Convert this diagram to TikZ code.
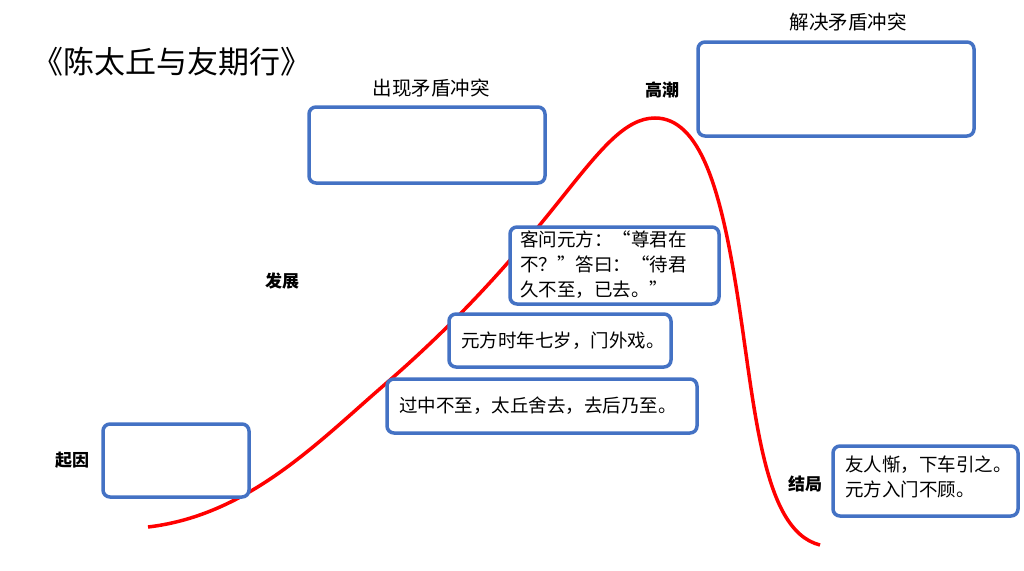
\documentclass[tikz,border=0pt]{standalone}
\usepackage{fontspec}
\setmainfont{Noto Sans CJK SC}
\definecolor{bluebox}{HTML}{4472C4}
\begin{document}
\begin{tikzpicture}[x=1pt,y=-1pt,
  bx/.style={draw=bluebox,line width=3.5pt,rounded corners=7pt,fill=white},
  tx/.style={font=\fontsize{18.5}{25}\selectfont,align=left,anchor=north west,inner sep=0pt},
  lb/.style={font=\fontsize{17}{20}\selectfont\bfseries},
  captext/.style={font=\fontsize{19.5}{22}\selectfont}]
\useasboundingbox (0,0) rectangle (1024,570);
\node[font=\fontsize{31}{34}\selectfont] (title) at (172,62) {《陈太丘与友期行》};
\draw[red,line width=3.5pt] (148,527) .. controls (250,515) and (320,440) .. (390,380)
  .. controls (470,310) and (520,250) .. (560,200)
  .. controls (600,150) and (625,118) .. (655,118)
  .. controls (700,118) and (720,190) .. (735,280)
  .. controls (755,400) and (760,530) .. (820,545);
\draw[bx] (103,424) rectangle (249,497);
\draw[bx] (309,107) rectangle (545,183);
\draw[bx] (698,42) rectangle (974,136);
\draw[bx] (510,227) rectangle (719,304);
\draw[bx] (449,314) rectangle (671,367);
\draw[bx] (387,379) rectangle (697,433);
\draw[bx] (833,446) rectangle (1018,516);
\node[tx] (t1) at (520,231) {客问元方：“尊君在\\不？”答曰：“待君\\久不至，已去。”};
\node[tx,anchor=west] (t2) at (461,341) {元方时年七岁，门外戏。};
\node[tx,anchor=west] (t3) at (399,406) {过中不至，太丘舍去，去后乃至。};
\node[tx] (t4) at (845,456) {友人惭，下车引之。\\元方入门不顾。};
\node[captext] (c1) at (431,88) {出现矛盾冲突};
\node[captext] (c2) at (848,22) {解决矛盾冲突};
\node[lb] (l1) at (72,460) {起因};
\node[lb] (l2) at (282,281) {发展};
\node[lb] (l3) at (662,90) {高潮};
\node[lb] (l4) at (805,484) {结局};
\end{tikzpicture}
\end{document}
